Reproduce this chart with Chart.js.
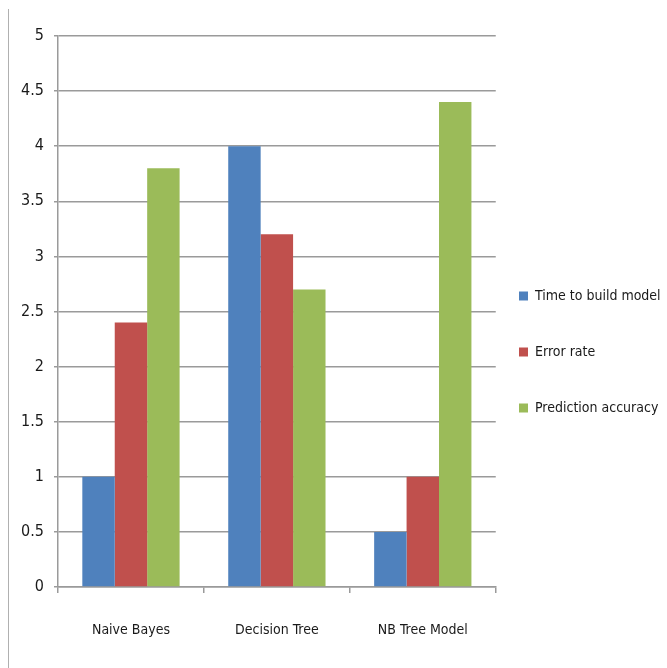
<!DOCTYPE html>
<html>
<head>
<meta charset="utf-8">
<script src="https://cdn.jsdelivr.net/npm/chart.js@4/dist/chart.umd.min.js"></script>
<style>
    html, body { margin: 0; padding: 0; background: #fff; }
    #wrap { position: relative; width: 667px; height: 668px; }
    #frame { position: absolute; left: 8px; top: 9px; width: 1px; height: 659px; background: #b0b0b0; }
</style>
</head>
<body>
<div id="wrap">
    <div id="frame"></div>
    <canvas id="modelChart" width="667" height="668"></canvas>
</div>
<script>
const categories = ['Naive Bayes', 'Decision Tree', 'NB Tree Model'];
const timeToBuild = [1, 4, 0.5];
const errorRate = [2.4, 3.2, 1];
const predictionAccuracy = [3.8, 2.7, 4.4];
const yTicks = [0, 0.5, 1, 1.5, 2, 2.5, 3, 3.5, 4, 4.5, 5];

const font = "'Liberation Sans Narrow', 'DejaVu Sans Condensed', sans-serif";

// nudge the legend to where the original sits
const legendShift = {
    id: 'legendShift',
    afterLayout(chart) {
        const lg = chart.legend;
        lg.left = 477;
        lg.width = 190;
        lg.right = lg.left + lg.width;
    },
};

new Chart(document.getElementById('modelChart'), {
    type: 'bar',
    data: {
        labels: categories,
        datasets: [
            { label: 'Time to build model', data: timeToBuild, backgroundColor: '#4f81bd' },
            { label: 'Error rate', data: errorRate, backgroundColor: '#c0504d' },
            { label: 'Prediction accuracy', data: predictionAccuracy, backgroundColor: '#9bbb59' },
        ],
    },
    options: {
        responsive: false,
        animation: false,
        layout: { padding: { top: 36, left: 0, right: 6, bottom: 0 } },
        datasets: {
            bar: { categoryPercentage: 0.6667, barPercentage: 1.0 },
        },
        plugins: {
            tooltip: { enabled: false },
            legend: {
                position: 'right',
                labels: {
                    boxWidth: 9,
                    boxHeight: 9,
                    padding: 42,
                    color: '#1a1a1a',
                    font: { family: font, size: 14 },
                },
            },
        },
        scales: {
            x: {
                grid: {
                    drawOnChartArea: false,
                    tickLength: 6,
                    color: '#9a9a9a',
                    lineWidth: 1.5,
                },
                border: { color: '#9a9a9a', width: 1.5 },
                ticks: {
                    padding: 29,
                    color: '#1a1a1a',
                    font: { family: font, size: 14 },
                },
                afterFit(scale) { scale.height = 81; },
            },
            y: {
                min: 0,
                max: 5,
                afterBuildTicks(scale) { scale.ticks = yTicks.map(v => ({ value: v })); },
                grid: {
                    tickLength: 4,
                    color: '#9a9a9a',
                    lineWidth: 1.5,
                },
                border: { color: '#9a9a9a', width: 1.5 },
                ticks: {
                    padding: 10,
                    color: '#1a1a1a',
                    font: { family: font, size: 16 },
                    callback: value => String(value),
                },
                afterFit(scale) { scale.width = 58; },
            },
        },
    },
    plugins: [legendShift],
});
</script>
</body>
</html>
